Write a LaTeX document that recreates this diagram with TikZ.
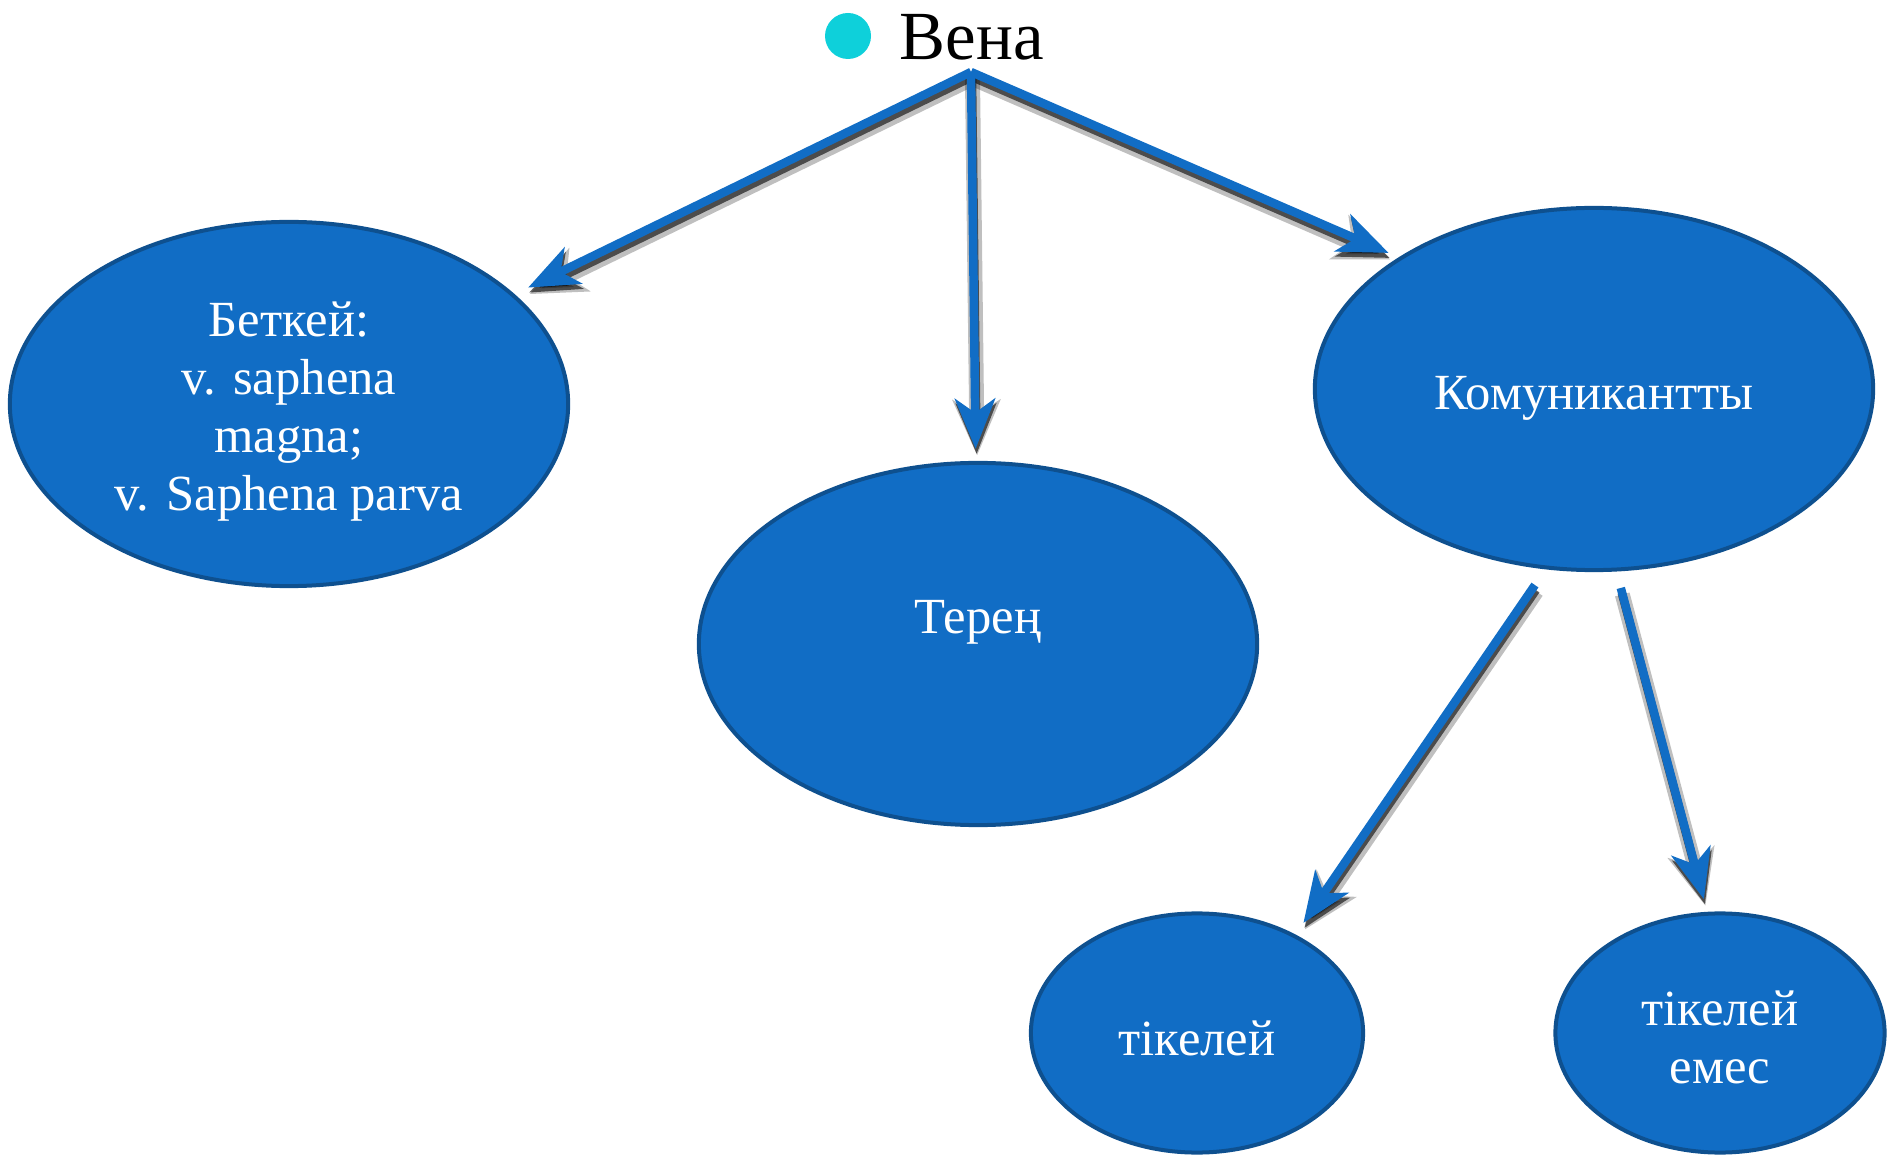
\documentclass[tikz,border=0pt]{standalone}
\usepackage{fontspec}
\setmainfont{Liberation Serif}
\usetikzlibrary{arrows.meta,shapes.geometric}
\definecolor{ellfill}{RGB}{17,109,197}
\definecolor{elldraw}{RGB}{14,80,143}
\definecolor{dotc}{RGB}{14,208,218}
\begin{document}
\begin{tikzpicture}[x=0.01cm,y=-0.01cm,
  ell/.style={ellipse, fill=ellfill, draw=elldraw, line width=0.04cm, inner sep=0pt},
  lbl/.style={text=white, align=center, inner sep=0pt, font=\fontsize{14.4pt}{16.5pt}\selectfont},
  arr/.style={draw=ellfill, line width=0.085cm,
    -{Stealth[length=0.5cm,width=0.4cm,inset=0.14cm]}},
  sha/.style={draw=black, opacity=0.25, line width=0.15cm,
    -{Stealth[length=0.55cm,width=0.47cm,inset=0.14cm]},
    transform canvas={shift={(0.015cm,-0.065cm)}}},
  shb/.style={draw=black, opacity=0.6, line width=0.085cm,
    -{Stealth[length=0.5cm,width=0.4cm,inset=0.14cm]},
    transform canvas={shift={(0.01cm,-0.05cm)}}}
]
\useasboundingbox (0,0) rectangle (1887,1155);

% title
\fill[dotc] (848,36) circle[radius=23];
\node[anchor=base west, inner sep=0pt, font=\fontsize{19.6pt}{23pt}\selectfont] (title) at (899,60) {Вена};
\coordinate (top) at (971,72);

% ellipses
\node[ell, minimum width=5.58cm, minimum height=3.64cm] (n1) at (289,404) {};
\node[ell, minimum width=5.58cm, minimum height=3.62cm] (n2) at (978,644) {};
\node[ell, minimum width=5.58cm, minimum height=3.62cm] (n3) at (1594,389) {};
\node[ell, minimum width=3.32cm, minimum height=2.39cm] (n4) at (1197,1033) {};
\node[ell, minimum width=3.29cm, minimum height=2.39cm] (n5) at (1720,1033) {};

% texts
\node[lbl] (t1) at (289,412) {Беткей:\\v. saphena\\magna;\\v. Saphena parva};
\node[lbl] (t2) at (978,622) {Терең};
\node[lbl] (t3) at (1594,398) {Комуникантты};
\node[lbl] (t4) at (1197,1038) {тікелей};
\node[lbl] (t5) at (1720,1037) {тікелей\\емес};

% shadows
\draw[sha, shorten >=0.15cm] (top) -- (n1);
\draw[sha, shorten >=0.12cm] (top) -- (n2);
\draw[sha, shorten >=0.11cm] (top) -- (n3.146);
\draw[sha, shorten <=0.19cm, shorten >=0.14cm] (n3.-105) -- (n4.45);
\draw[sha, shorten <=0.17cm, shorten >=0.13cm] (n3.-83.6) -- (n5.96);
\draw[shb, shorten >=0.15cm] (top) -- (n1);
\draw[shb, shorten >=0.12cm] (top) -- (n2);
\draw[shb, shorten >=0.11cm] (top) -- (n3.146);
\draw[shb, shorten <=0.19cm, shorten >=0.14cm] (n3.-105) -- (n4.45);
\draw[shb, shorten <=0.17cm, shorten >=0.13cm] (n3.-83.6) -- (n5.96);

% arrows
\draw[arr, shorten >=0.15cm] (top) -- (n1);
\draw[arr, shorten >=0.12cm] (top) -- (n2);
\draw[arr, shorten >=0.11cm] (top) -- (n3.146);
\draw[arr, shorten <=0.19cm, shorten >=0.14cm] (n3.-105) -- (n4.45);
\draw[arr, shorten <=0.17cm, shorten >=0.13cm] (n3.-83.6) -- (n5.96);
\end{tikzpicture}
\end{document}
